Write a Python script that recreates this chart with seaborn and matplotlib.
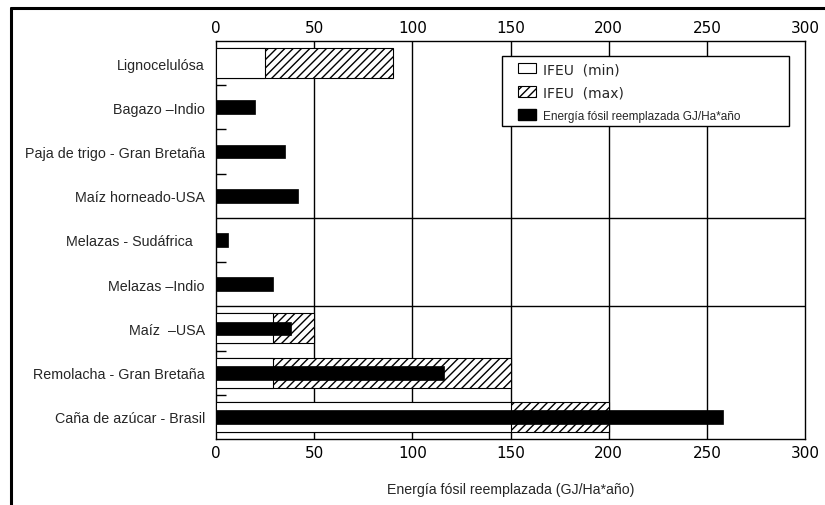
import numpy as np
import pandas as pd
import matplotlib
matplotlib.use("Agg")
import matplotlib.pyplot as plt
from matplotlib.patches import Patch, Rectangle
from matplotlib.lines import Line2D
import seaborn as sns

categories = ["Lignocelulósa", "Bagazo –Indio", "Paja de trigo - Gran Bretaña",
              "Maíz horneado-USA", "Melazas - Sudáfrica   ", "Melazas –Indio",
              "Maíz  –USA", "Remolacha - Gran Bretaña", "Caña de azúcar - Brasil"]
ifeu_min = [25, np.nan, np.nan, np.nan, np.nan, np.nan, 29, 29, 150]
ifeu_max = [90, np.nan, np.nan, np.nan, np.nan, np.nan, 50, 150, 200]
fossil = [np.nan, 20, 35, 42, 6, 29, 38, 116, 258]
x_ticks = [0, 50, 100, 150, 200, 250, 300]

df = pd.DataFrame({"cat": categories, "min": ifeu_min, "max": ifeu_max, "fossil": fossil})

sns.set_style("white")
plt.rcParams["font.family"] = ["Liberation Sans", "DejaVu Sans"]
plt.rcParams["hatch.linewidth"] = 1.0

fig = plt.figure(figsize=(8.25, 5.06), dpi=100)
ax = fig.add_axes([216 / 825, 1 - 440 / 506, 589 / 825, 398 / 506])

sns.barplot(data=df, x="max", y="cat", order=categories, orient="h", width=0.68,
            color="white", edgecolor="black", hatch="////", linewidth=0.8,
            saturation=1, errorbar=None, ax=ax, zorder=2)
sns.barplot(data=df, x="min", y="cat", order=categories, orient="h", width=0.68,
            color="white", edgecolor="black", linewidth=0.8,
            saturation=1, errorbar=None, ax=ax, zorder=3)
sns.barplot(data=df, x="fossil", y="cat", order=categories, orient="h", width=0.31,
            color="black", edgecolor="black", linewidth=0.5,
            saturation=1, errorbar=None, ax=ax, zorder=4)

ax.set_xlim(0, 300)
ax.set_ylim(len(categories) - 0.5, -0.5)
ax.set_xticks(x_ticks)
ax.set_xticklabels([str(t) for t in x_ticks], fontfamily="DejaVu Sans", fontsize=11)
ax.tick_params(axis="x", which="both", length=0, pad=4.5, top=True, labeltop=True,
               bottom=True, labelbottom=True, colors="black")
ax.tick_params(axis="y", which="major", length=0, pad=8, labelsize=10.3)

# vertical grid
for t in x_ticks[1:-1]:
    ax.axvline(t, color="black", lw=1.0, zorder=1)
# horizontal separators
for b in [3.5, 5.5]:
    ax.axhline(b, color="black", lw=1.0, zorder=1)
# minor ticks on the other boundaries
minor = [b for b in np.arange(0.5, len(categories) - 0.5, 1.0) if b not in (3.5, 5.5)]
ax.set_yticks(minor, minor=True)
ax.tick_params(axis="y", which="minor", direction="in", length=7.5, width=1.0,
               color="black", left=True)

for s in ax.spines.values():
    s.set_color("black")
    s.set_linewidth(1.0)

ax.set_ylabel("")
ax.set_xlabel("Energía fósil reemplazada (GJ/Ha*año)", fontsize=10.2, labelpad=16)

# legend box
ax.add_patch(Rectangle((0.4856, 0.7864), 0.9728 - 0.4856, 0.9623 - 0.7864,
                       transform=ax.transAxes, facecolor="white", edgecolor="black",
                       lw=1.0, zorder=5))
handles = [
    Patch(facecolor="white", edgecolor="black", linewidth=0.8, label="IFEU  (min)"),
    Patch(facecolor="white", edgecolor="black", linewidth=0.8, hatch="////", label="IFEU  (max)"),
    Patch(facecolor="black", edgecolor="black", label="Energía fósil reemplazada GJ/Ha*año"),
]
leg = ax.legend(handles=handles, loc="upper left",
                bbox_to_anchor=((518 - 216) / 589, (440 - 63) / 398),
                frameon=False, fontsize=10,
                handlelength=1.3, handleheight=0.8, handletextpad=0.5,
                borderpad=0, labelspacing=0.68, borderaxespad=0)
leg.set_zorder(6)
for txt in leg.get_texts()[:2]:
    txt.set_fontfamily("DejaVu Sans")
    txt.set_fontsize(10)
leg.get_texts()[2].set_fontsize(8.5)

# outer frame (top and left edges visible)
fig.add_artist(Line2D([10.5 / 825, 10.5 / 825], [0, 1 - 9 / 506], transform=fig.transFigure,
                      color="black", lw=2.2))
fig.add_artist(Line2D([10.5 / 825, 1], [1 - 9 / 506, 1 - 9 / 506], transform=fig.transFigure,
                      color="black", lw=2.2))

fig.savefig("out.png", dpi=100)
